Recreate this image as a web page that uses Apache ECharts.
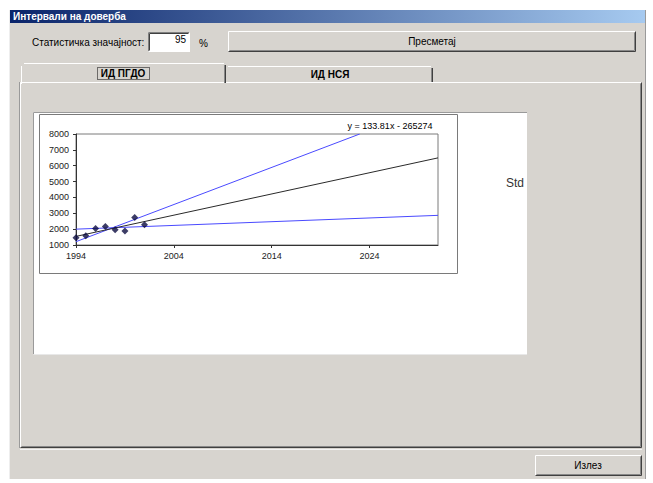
<!DOCTYPE html>
<html><head><meta charset="utf-8">
<script src="https://cdn.jsdelivr.net/npm/echarts@6/dist/echarts.min.js"></script>
<style>html,body{margin:0;padding:0;background:#fff}#c{width:653px;height:483px}</style>
</head><body><div id="c"></div>
<script>
// ---- data ----
const years = [1994, 1995, 1996, 1997, 1998, 1999, 2000, 2001];
const values = [1465, 1590, 2040, 2165, 1955, 1890, 2740, 2270];
const trendYears = [1994, 2031];
const trendValues = [1543, 6494];
const upperYears = [1994, 2023];
const upperValues = [1210, 8000];
const lowerYears = [1994, 2031];
const lowerValues = [2000, 2870];
const xTicks = [1994, 2004, 2014, 2024];
const yMin = 1000, yMax = 8000, yStep = 1000;
const xMin = 1994, xMax = 2031;
const equation = 'y = 133.81x - 265274';
const titleText = 'Интервали на доверба';
const levelLabel = 'Статистичка значајност:';
const levelValue = '95';
const calcLabel = 'Пресметај';
const tab1Label = 'ИД ПГДО';
const tab2Label = 'ИД НСЯ';
const sideLabel = 'Std';
const exitLabel = 'Излез';

const pair = (xs, ys) => xs.map((x, i) => [x, ys[i]]);
const FONT = '"Liberation Sans", Arial, sans-serif';
const BG = '#d7d4cf';

function ln(x1, y1, x2, y2, c, extra) {
  return Object.assign({type: 'line', silent: true, z: -5,
    shape: {x1, y1, x2, y2}, style: {stroke: c, lineWidth: 1}}, extra || {});
}
function rect(x, y, w, h, fill, extra) {
  return Object.assign({type: 'rect', silent: true, z: -10,
    shape: {x, y, width: w, height: h}, style: {fill}}, extra || {});
}
function txt(x, y, t, size, opts) {
  opts = opts || {};
  return {type: 'text', silent: true, z: opts.z != null ? opts.z : -4, x, y,
    style: {text: t, font: (opts.bold ? 'bold ' : '') + size + 'px ' + FONT,
      fill: opts.color || '#000', textAlign: opts.align || 'left',
      textVerticalAlign: 'middle', backgroundColor: opts.bg, padding: opts.pad}};
}
function raised(x, y, w, h) {
  // classic 3D raised border
  return [
    ln(x + .5, y + .5, x + w - .5, y + .5, '#ffffff'),
    ln(x + .5, y + .5, x + .5, y + h - .5, '#ffffff'),
    ln(x + .5, y + h - .5, x + w - .5, y + h - .5, '#404040'),
    ln(x + w - .5, y + .5, x + w - .5, y + h - .5, '#404040'),
    ln(x + 1.5, y + h - 1.5, x + w - 1.5, y + h - 1.5, '#888888'),
    ln(x + w - 1.5, y + 1.5, x + w - 1.5, y + h - 1.5, '#888888')
  ];
}

const g = [];
// window
g.push(rect(9, 10, 637, 469, BG));
g.push(ln(9.5, 10, 9.5, 479, '#eeeeee'));
g.push(ln(645.5, 10, 645.5, 479, '#9a9a9a'));
// title bar
g.push(rect(10, 10, 635, 13, {type: 'linear', x: 0, y: 0, x2: 1, y2: 0,
  colorStops: [{offset: 0, color: '#0a246a'}, {offset: 1, color: '#a6caf0'}]}, {z: -9}));
g.push(txt(13, 16.5, titleText, 10, {bold: true, color: '#ffffff'}));
// significance row
g.push(txt(32, 42, levelLabel, 10));
g.push(rect(148, 32, 42, 20, '#ffffff', {z: -8}));
g.push(ln(148.5, 32.5, 189.5, 32.5, '#808080'));
g.push(ln(148.5, 32.5, 148.5, 51.5, '#808080'));
g.push(ln(149.5, 33.5, 188.5, 33.5, '#404040'));
g.push(ln(149.5, 33.5, 149.5, 50.5, '#404040'));
g.push(ln(148.5, 51.5, 189.5, 51.5, '#ffffff'));
g.push(ln(189.5, 32.5, 189.5, 51.5, '#ffffff'));
g.push(txt(186, 39, levelValue, 10, {align: 'right'}));
g.push(txt(199, 43, '%', 10));
// calc button
g.push(...raised(228, 31, 408, 21));
g.push(txt(432, 41.5, calcLabel, 10, {align: 'center'}));
// tab panel
g.push(rect(20, 82, 622, 366, BG, {z: -9}));
g.push(ln(20.5, 82.5, 641.5, 82.5, '#ffffff'));
g.push(ln(20.5, 82.5, 20.5, 447.5, '#ffffff'));
g.push(ln(19.5, 82, 19.5, 448, '#9a9a9a'));
g.push(ln(20.5, 447.5, 641.5, 447.5, '#404040'));
g.push(ln(641.5, 82.5, 641.5, 447.5, '#404040'));
g.push(ln(21.5, 446.5, 640.5, 446.5, '#888888'));
g.push(ln(640.5, 83.5, 640.5, 446.5, '#888888'));
g.push(ln(20, 449.5, 642, 449.5, '#f4f4f4'));
// tab 2 (inactive)
g.push(rect(226, 66, 207, 16, BG, {z: -8}));
g.push(ln(228, 66.5, 431, 66.5, '#ffffff'));
g.push(ln(432.5, 68, 432.5, 82, '#404040'));
g.push(ln(431.5, 68, 431.5, 82, '#888888'));
g.push(txt(330, 74, tab2Label, 10, {bold: true, align: 'center'}));
// tab 1 (active)
g.push(rect(21, 63, 205, 21, BG, {z: -7}));
g.push(ln(24, 63.5, 224, 63.5, '#ffffff', {z: -3}));
g.push(ln(21.5, 66, 21.5, 84, '#ffffff', {z: -3}));
g.push(ln(225.5, 65, 225.5, 83, '#404040', {z: -3}));
g.push(ln(224.5, 65, 224.5, 83, '#888888', {z: -3}));
g.push(txt(123, 73.5, tab1Label, 10, {bold: true, align: 'center', z: -2}));
g.push({type: 'rect', silent: true, z: -2, shape: {x: 97.5, y: 67.5, width: 52, height: 12},
  style: {fill: 'none', stroke: '#000', lineWidth: 1, lineDash: [1, 1]}});
// white chart area
g.push(rect(33, 112, 494, 242, '#ffffff', {z: -6}));
g.push(ln(33.5, 112.5, 527, 112.5, '#9a9a9a', {z: -3}));
g.push(ln(33.5, 112.5, 33.5, 354, '#9a9a9a', {z: -3}));
g.push(ln(33.5, 354.5, 527, 354.5, '#e8e8e8', {z: -3}));
// inner chart frame
g.push({type: 'rect', silent: true, z: -3, shape: {x: 39.5, y: 114.5, width: 418, height: 159},
  style: {fill: 'none', stroke: '#7a7a7a', lineWidth: 1}});
// equation label
g.push(txt(390, 126, equation, 9, {align: 'center', bg: '#ffffff', pad: [1, 2], z: 20}));
// side label
g.push(txt(506, 183, sideLabel, 12, {color: '#333333'}));
// exit button
g.push(...raised(535, 455, 107, 21));
g.push(txt(588, 465.5, exitLabel, 10, {align: 'center'}));

const chart = echarts.init(document.getElementById('c'), null, {renderer: 'svg'});
chart.setOption({
  animation: false,
  backgroundColor: '#ffffff',
  grid: {left: 76, top: 134, width: 362, height: 111, show: true,
    backgroundColor: '#ffffff', borderColor: '#7a7a7a', borderWidth: 1, containLabel: false},
  xAxis: {
    type: 'value', min: xMin, max: xMax,
    axisLine: {show: true, lineStyle: {color: '#333333', width: 1}},
    axisTick: {show: true, length: 3, inside: false, customValues: xTicks, lineStyle: {color: '#333333'}},
    axisLabel: {customValues: xTicks, margin: 6, fontSize: 9, fontFamily: FONT, color: '#222222',
      formatter: v => String(v)},
    splitLine: {show: false}
  },
  yAxis: {
    type: 'value', min: yMin, max: yMax, interval: yStep,
    axisLine: {show: true, lineStyle: {color: '#333333', width: 1}},
    axisTick: {show: true, length: 3, inside: false, lineStyle: {color: '#333333'}},
    axisLabel: {margin: 7, fontSize: 9, fontFamily: FONT, color: '#222222',
      formatter: v => String(v)},
    splitLine: {show: false}
  },
  graphic: {elements: g},
  series: [
    {type: 'line', data: pair(upperYears, upperValues), symbol: 'none', clip: true,
      lineStyle: {color: '#4a4aff', width: 1}, z: 3},
    {type: 'line', data: pair(lowerYears, lowerValues), symbol: 'none', clip: true,
      lineStyle: {color: '#4a4aff', width: 1}, z: 3},
    {type: 'line', data: pair(trendYears, trendValues), symbol: 'none', clip: true,
      lineStyle: {color: '#2a2a2a', width: 1}, z: 3},
    {type: 'scatter', data: pair(years, values), symbol: 'diamond', symbolSize: 7,
      itemStyle: {color: '#0b0b40'}, z: 5}
  ]
});
</script></body></html>
